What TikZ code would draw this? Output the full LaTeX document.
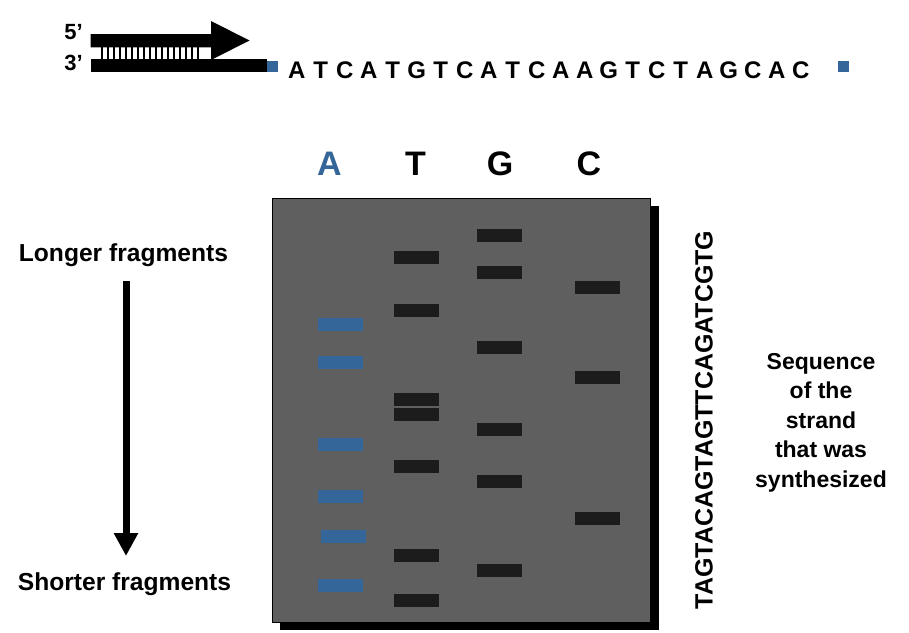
\documentclass[tikz,border=0pt]{standalone}
\usepackage{fontspec}
\setmainfont{Liberation Sans}
\usetikzlibrary{arrows.meta}
\definecolor{gelgray}{HTML}{5F5F5F}
\definecolor{bandblack}{HTML}{1C1C1C}
\definecolor{ablue}{HTML}{346699}

\begin{document}
\begin{tikzpicture}[x=1pt,y=-1pt,
  band/.style={fill=bandblack,minimum width=45pt,minimum height=13pt,inner sep=0pt},
  aband/.style={band,fill=ablue},
  lbl/.style={font=\fontsize{#1}{#1}\selectfont\bfseries,inner sep=0pt}]
\useasboundingbox (0,0) rectangle (909,632);

\fill (90.7,34) -- (211,34) -- (211,21) -- (249.5,40.5) -- (211,60) -- (211,47.3) -- (90.7,47.3) -- cycle;
\fill (90.7,59.3) rectangle (266.7,71.7);
\fill[ablue] (266.7,60.5) rectangle (277.7,71.5);
\foreach \i in {0,...,16}{
\draw[line width=1.6pt] (102+6*\i,47.3) -- (102+6*\i,59.3);
}
\node[lbl=22,anchor=base east] (five) at (83,39) {5’};
\node[lbl=22,anchor=base east] (three) at (83,70) {3’};
\foreach \b [count=\i from 0] in {A,T,C,A,T,G,T,C,A,T,C,A,A,G,T,C,T,A,G,C,A,C}{
\node[lbl=24,anchor=base] (s\i) at (296.7+24*\i,78) {\b};
}
\fill[ablue] (838,61) rectangle (849,72);

\fill (280,206) rectangle (659,630);
\draw[fill=gelgray,line width=1pt] (272.7,198.3) rectangle (650.7,622.3);

\node[lbl=34,anchor=base,text=ablue] (laneA) at (329.5,175) {A};
\node[lbl=34,anchor=base] (laneT) at (415.5,175) {T};
\node[lbl=34,anchor=base] (laneG) at (500,175) {G};
\node[lbl=34,anchor=base] (laneC) at (588.8,175) {C};

\foreach \y [count=\k] in {324,362.5,444.5,496.5,585.5}{
\node[aband] (bandA\k) at (340.2,\y) {};
}
\node[aband] (bandA6) at (343.8,536) {};
\foreach \y [count=\k] in {257.5,310,399.5,414.5,466.5,555.5,600.5}{
\node[band] (bandT\k) at (416.2,\y) {};
}
\foreach \y [count=\k] in {235.5,272.5,347.5,429.5,481.5,570.5}{
\node[band] (bandG\k) at (499,\y) {};
}
\foreach \y [count=\k] in {287.5,377,518.5}{
\node[band] (bandC\k) at (597,\y) {};
}

\node[lbl=25,rotate=90] (readout) at (704,420) {TAGTACAGTAGTTCAGATCGTG};
\node[font=\fontsize{23}{29.5}\selectfont\bfseries,inner sep=0pt,align=center,anchor=north] (synth) at (821,353) {Sequence\\of the\\strand\\that was\\synthesized};

\node[lbl=24.6,anchor=base] (longer) at (123.5,261.7) {Longer fragments};
\node[lbl=24.6,anchor=base] (shorter) at (124.5,590) {Shorter fragments};
\coordinate (arrtop) at (126,281);
\coordinate (arrtip) at (126,556);
\draw[line width=7pt,-{Triangle[width=23pt,length=23pt]}] (arrtop) -- (arrtip);
\end{tikzpicture}
\end{document}
